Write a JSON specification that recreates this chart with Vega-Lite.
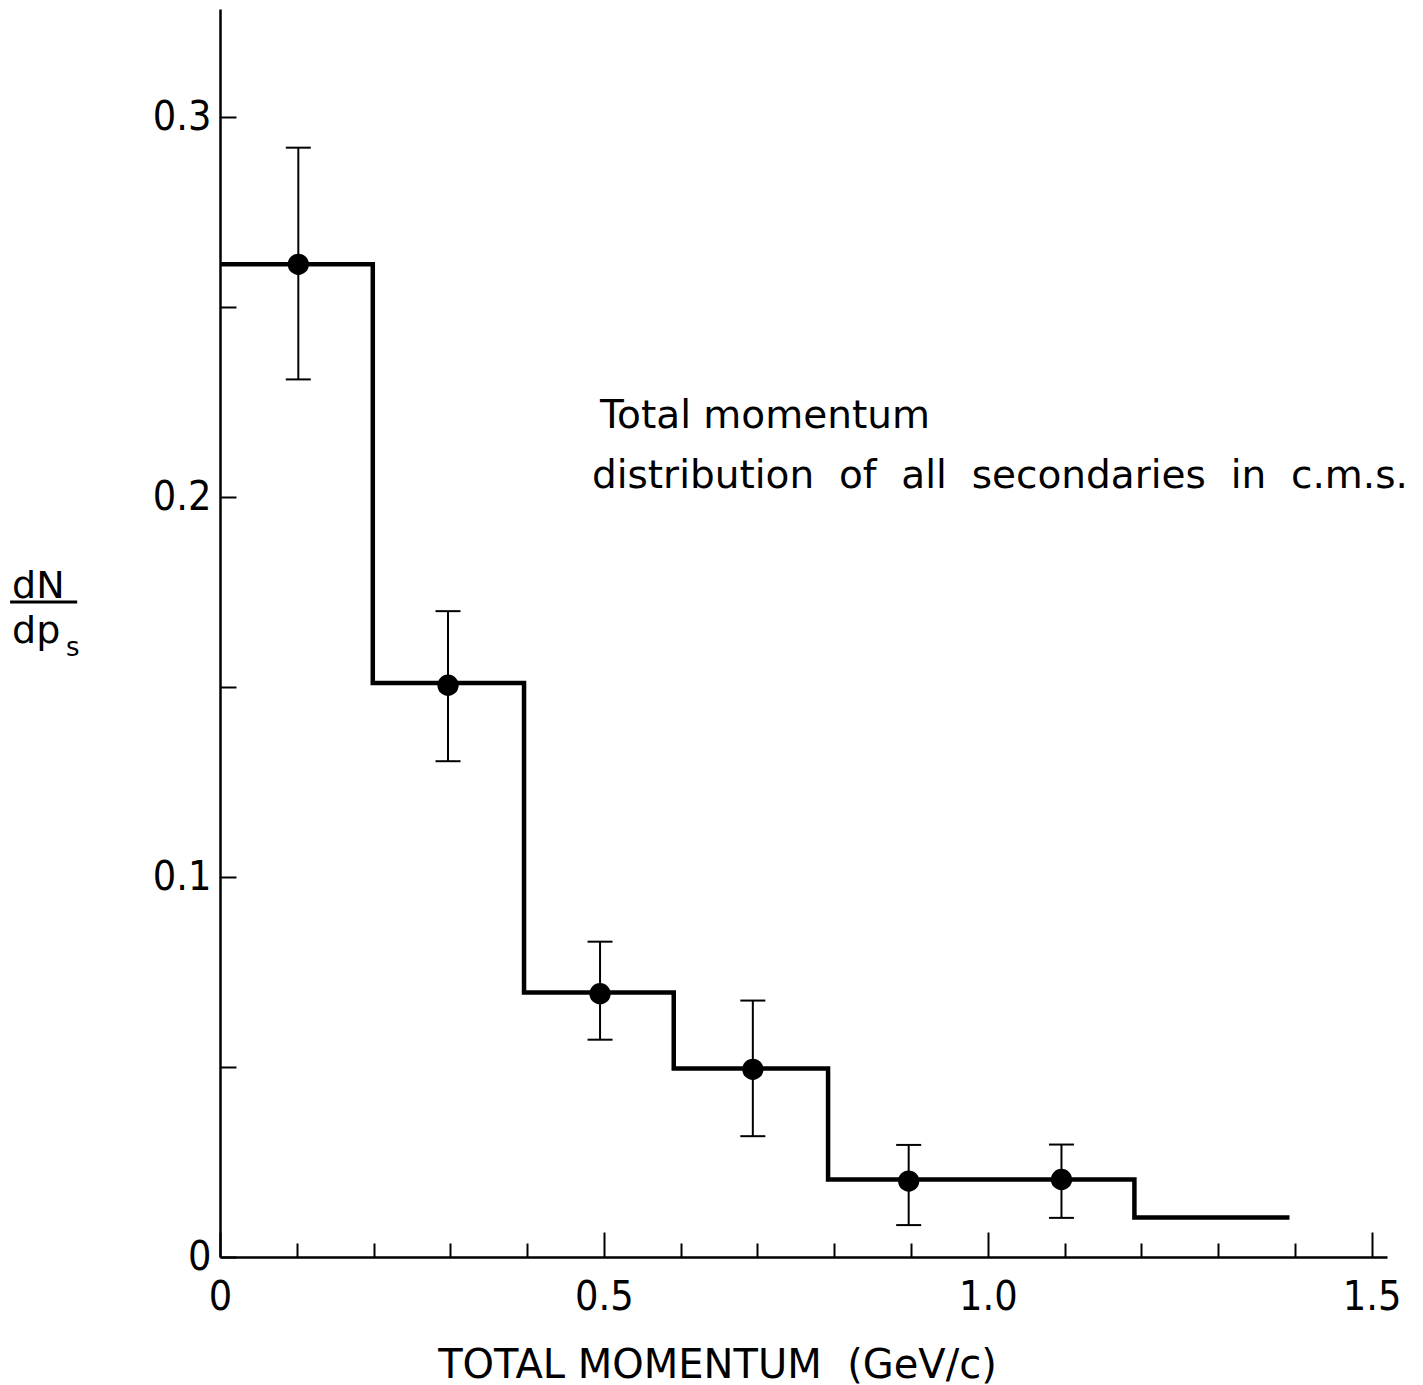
{
  "$schema": "https://vega.github.io/schema/vega-lite/v6.json",
  "width": 1167,
  "height": 1248,
  "autosize": {"type": "none"},
  "padding": {"left": 220, "top": 9, "right": 36, "bottom": 128},
  "background": "white",
  "config": {"view": {"stroke": null}, "font": "DejaVu Sans"},
  "datasets": {
    "steps": [
      {"p": 0, "dn": 0.2613},
      {"p": 0.199, "dn": 0.1511},
      {"p": 0.396, "dn": 0.0696},
      {"p": 0.591, "dn": 0.0496},
      {"p": 0.792, "dn": 0.0204},
      {"p": 1.191, "dn": 0.0104},
      {"p": 1.393, "dn": 0.0104}
    ],
    "points": [
      {"p": 0.102, "dn": 0.2613, "lo": 0.231, "hi": 0.292},
      {"p": 0.297, "dn": 0.1505, "lo": 0.1305, "hi": 0.17},
      {"p": 0.495, "dn": 0.0693, "lo": 0.0572, "hi": 0.083},
      {"p": 0.694, "dn": 0.0494, "lo": 0.0318, "hi": 0.0675},
      {"p": 0.897, "dn": 0.02, "lo": 0.0084, "hi": 0.0295},
      {"p": 1.096, "dn": 0.0204, "lo": 0.0103, "hi": 0.0296}
    ]
  },
  "resolve": {"scale": {"x": "shared", "y": "shared"}, "axis": {"x": "independent"}},
  "layer": [
    {
      "data": {"name": "steps"},
      "mark": {"type": "line", "interpolate": "step-after", "stroke": "black", "strokeWidth": 4.5, "strokeJoin": "miter"},
      "encoding": {
        "x": {
          "field": "p", "type": "quantitative",
          "scale": {"domain": [0, 1.52], "nice": false, "zero": false},
          "axis": {
            "orient": "bottom",
            "values": [0, 0.5, 1, 1.5],
            "labelExpr": "datum.value == 0 ? '0' : format(datum.value, '.1f')",
            "tickSize": -25, "tickWidth": 2, "tickColor": "black",
            "domainColor": "black", "domainWidth": 2.5,
            "grid": false,
            "labelFont": "DejaVu Sans Condensed, Liberation Sans", "labelFontSize": 41, "labelColor": "black",
            "labelPadding": 45, "labelBaseline": "top", "labelFlush": false,
            "title": "TOTAL MOMENTUM \u00a0(GeV/c)",
            "titleFont": "DejaVu Sans", "titleFontSize": 40, "titleFontWeight": "normal", "titleColor": "black",
            "titleX": 497, "titleY": 120, "titleAlign": "center", "titleBaseline": "alphabetic"
          }
        },
        "y": {
          "field": "dn", "type": "quantitative",
          "scale": {"domain": [0, 0.3285], "nice": false},
          "axis": {
            "values": [0, 0.05, 0.1, 0.15, 0.2, 0.25, 0.3],
            "labelExpr": "abs(datum.value*10 - round(datum.value*10)) < 0.001 ? (datum.value == 0 ? '0' : format(datum.value, '.1f')) : ''",
            "tickSize": -16, "tickWidth": 2, "tickColor": "black",
            "domainColor": "black", "domainWidth": 2.5,
            "grid": false,
            "labelFont": "DejaVu Sans Condensed, Liberation Sans", "labelFontSize": 41, "labelColor": "black",
            "labelPadding": 25, "labelFlush": false,
            "title": null
          }
        }
      }
    },
    {
      "data": {"name": "points"},
      "mark": {"type": "rule", "stroke": "black", "strokeWidth": 2},
      "encoding": {
        "x": {
          "field": "p", "type": "quantitative",
          "axis": {
            "orient": "bottom",
            "values": [0.1, 0.2, 0.3, 0.4, 0.6, 0.7, 0.8, 0.9, 1.1, 1.2, 1.3, 1.4],
            "labels": false, "domain": false, "grid": false,
            "tickSize": -14, "tickWidth": 2, "tickColor": "black",
            "title": null
          }
        },
        "y": {"field": "lo", "type": "quantitative"},
        "y2": {"field": "hi"}
      }
    },
    {
      "data": {"name": "points"},
      "mark": {"type": "tick", "orient": "horizontal", "color": "black", "size": 25, "thickness": 2, "opacity": 1},
      "encoding": {
        "x": {"field": "p", "type": "quantitative", "axis": null},
        "y": {"field": "lo", "type": "quantitative"}
      }
    },
    {
      "data": {"name": "points"},
      "mark": {"type": "tick", "orient": "horizontal", "color": "black", "size": 25, "thickness": 2, "opacity": 1},
      "encoding": {
        "x": {"field": "p", "type": "quantitative", "axis": null},
        "y": {"field": "hi", "type": "quantitative"}
      }
    },
    {
      "data": {"name": "points"},
      "mark": {"type": "point", "shape": "circle", "filled": true, "color": "black", "size": 452, "opacity": 1},
      "encoding": {
        "x": {"field": "p", "type": "quantitative", "axis": null},
        "y": {"field": "dn", "type": "quantitative"}
      }
    },
    {
      "data": {"values": [{"label": "Total momentum"}]},
      "mark": {"type": "text", "align": "left", "baseline": "alphabetic", "font": "DejaVu Sans", "fontSize": 39, "color": "black"},
      "encoding": {
        "x": {"datum": 0.4948, "type": "quantitative", "axis": null},
        "y": {"datum": 0.2182, "type": "quantitative"},
        "text": {"field": "label"}
      }
    },
    {
      "data": {"values": [{"label": "distribution\u00a0 of\u00a0 all\u00a0 secondaries\u00a0 in\u00a0 c.m.s."}]},
      "mark": {"type": "text", "align": "left", "baseline": "alphabetic", "font": "DejaVu Sans", "fontSize": 39, "color": "black"},
      "encoding": {
        "x": {"datum": 0.4844, "type": "quantitative", "axis": null},
        "y": {"datum": 0.2024, "type": "quantitative"},
        "text": {"field": "label"}
      }
    },
    {
      "data": {"values": [{"label": "dN"}]},
      "mark": {"type": "text", "align": "left", "baseline": "alphabetic", "font": "DejaVu Sans", "fontSize": 38, "color": "black"},
      "encoding": {
        "x": {"datum": -0.2708, "type": "quantitative", "axis": null},
        "y": {"datum": 0.1734, "type": "quantitative"},
        "text": {"field": "label"}
      }
    },
    {
      "data": {"values": [{"label": "bar"}]},
      "mark": {"type": "rule", "stroke": "black", "strokeWidth": 3},
      "encoding": {
        "x": {"datum": -0.2734, "type": "quantitative", "axis": null},
        "x2": {"datum": -0.186},
        "y": {"datum": 0.1724, "type": "quantitative"}
      }
    },
    {
      "data": {"values": [{"label": "dp"}]},
      "mark": {"type": "text", "align": "left", "baseline": "alphabetic", "font": "DejaVu Sans", "fontSize": 38, "color": "black"},
      "encoding": {
        "x": {"datum": -0.2708, "type": "quantitative", "axis": null},
        "y": {"datum": 0.1616, "type": "quantitative"},
        "text": {"field": "label"}
      }
    },
    {
      "data": {"values": [{"label": "s"}]},
      "mark": {"type": "text", "align": "left", "baseline": "alphabetic", "font": "DejaVu Sans", "fontSize": 26, "color": "black"},
      "encoding": {
        "x": {"datum": -0.2005, "type": "quantitative", "axis": null},
        "y": {"datum": 0.1582, "type": "quantitative"},
        "text": {"field": "label"}
      }
    }
  ]
}
